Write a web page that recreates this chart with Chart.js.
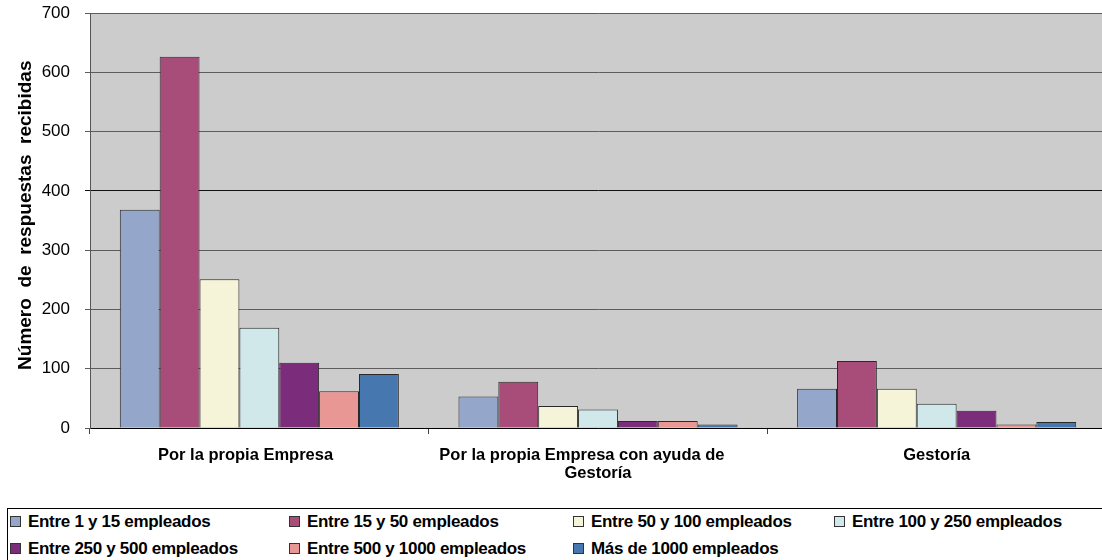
<!DOCTYPE html>
<html>
<head>
<meta charset="utf-8">
<script src="https://cdn.jsdelivr.net/npm/chart.js@4/dist/chart.umd.min.js"></script>
<style>
  html, body { margin:0; padding:0; background:#fff; width:1102px; height:560px; overflow:hidden; }
  #wrap { position:absolute; left:0; top:0; width:1106px; height:505px; }
  #legend { position:absolute; left:7px; top:508px; width:1120px; height:80px; border:1px solid #000; box-sizing:border-box; }
  .item { position:absolute; font-family:"Liberation Sans", Arial, sans-serif; font-weight:bold; font-size:17px; letter-spacing:-0.3px; color:#000; white-space:nowrap; line-height:18px; }
  .sw { display:inline-block; width:9px; height:9px; border:1px solid #333; margin-right:7px; vertical-align:0px; }
</style>
</head>
<body>
<div id="wrap"><canvas id="c"></canvas></div>
<div id="legend"></div>
<script>
const NB = '\u00a0';
const categories = [['Por la propia Empresa' + NB.repeat(6)], ['Por la propia Empresa con ayuda de' + NB.repeat(7), 'Gestoría'], ['Gestoría']];
const seriesNames = ['Entre 1 y 15 empleados', 'Entre 15 y 50 empleados', 'Entre 50 y 100 empleados', 'Entre 100 y 250 empleados', 'Entre 250 y 500 empleados', 'Entre 500 y 1000 empleados', 'Más de 1000 empleados'];
const s1 = [368, 53, 66];
const s2 = [626, 78, 113];
const s3 = [251, 37, 66];
const s4 = [169, 31, 41];
const s5 = [110, 12, 29];
const s6 = [62, 12, 6];
const s7 = [91, 6, 10];
const yTicks = [0, 100, 200, 300, 400, 500, 600, 700];
const colors = ['#95A6CB', '#A84D79', '#F5F4D8', '#D0E8EA', '#7B2C7A', '#E99794', '#4677AE'];
const allSeries = [s1, s2, s3, s4, s5, s6, s7];

const plotBg = {
  id: 'plotBg',
  beforeDraw(chart) {
    const {ctx, chartArea: a} = chart;
    ctx.save();
    ctx.fillStyle = '#CBCCCB';
    ctx.fillRect(a.left, a.top, a.right - a.left, a.bottom - a.top);
    ctx.restore();
  }
};

function zeroPad(s) { s.paddingTop = 0; s.paddingBottom = 0; s.paddingLeft = 0; s.paddingRight = 0; }

const chart = new Chart(document.getElementById('c'), {
  type: 'bar',
  data: {
    labels: categories,
    datasets: allSeries.map((d, i) => ({
      label: seriesNames[i],
      data: d,
      backgroundColor: colors[i],
      borderColor: '#2a2a2a',
      borderWidth: 1,
      categoryPercentage: 0.824,
      barPercentage: 1.0
    }))
  },
  options: {
    responsive: true,
    maintainAspectRatio: false,
    animation: false,
    layout: { padding: { left: 0, top: 13, right: 0, bottom: 0 } },
    plugins: { legend: { display: false }, tooltip: { enabled: false } },
    scales: {
      x: {
        grid: { display: true, drawOnChartArea: false, offset: true, tickLength: 6, color: '#444' },
        border: { color: '#000', width: 1 },
        ticks: { color: '#000', padding: 13, font: { family: '"Liberation Sans", Arial, sans-serif', size: 16.5, weight: 'bold', lineHeight: 1.05 }, maxRotation: 0, autoSkip: false },
        afterFit(s) { s.height = 77; zeroPad(s); }
      },
      y: {
        min: 0, max: 700,
        afterBuildTicks(s) { s.ticks = yTicks.map(v => ({ value: v })); },
        grid: { color: c => (c.tick && c.tick.value === 400) ? '#111' : '#5c5c5c', lineWidth: 1, tickLength: 5, drawTicks: true },
        border: { color: '#555', width: 1 },
        ticks: { color: '#000', padding: 15, font: { family: '"Liberation Sans", Arial, sans-serif', size: 17 } },
        title: { display: true, text: NB + NB + 'Número  de  respuestas  recibidas', color: '#000', padding: { top: 14, bottom: 2 }, font: { family: '"Liberation Sans", Arial, sans-serif', size: 19, weight: 'bold', lineHeight: 1.2 } },
        afterFit(s) { s.width = 90; zeroPad(s); }
      }
    }
  },
  plugins: [plotBg]
});

// HTML legend built from the chart's datasets (positions = swatch left edge in page px)
const legendPos = [[10, 513], [289, 513], [573, 513], [834, 513], [10, 540], [289, 540], [573, 540]];
const leg = document.getElementById('legend');
chart.data.datasets.forEach((ds, i) => {
  const el = document.createElement('div');
  el.className = 'item';
  el.style.left = (legendPos[i][0] - 8) + 'px';
  el.style.top = (legendPos[i][1] - 509) + 'px';
  const sw = document.createElement('span');
  sw.className = 'sw';
  sw.style.background = ds.backgroundColor;
  el.appendChild(sw);
  el.appendChild(document.createTextNode(ds.label));
  leg.appendChild(el);
});
</script>
</body>
</html>
